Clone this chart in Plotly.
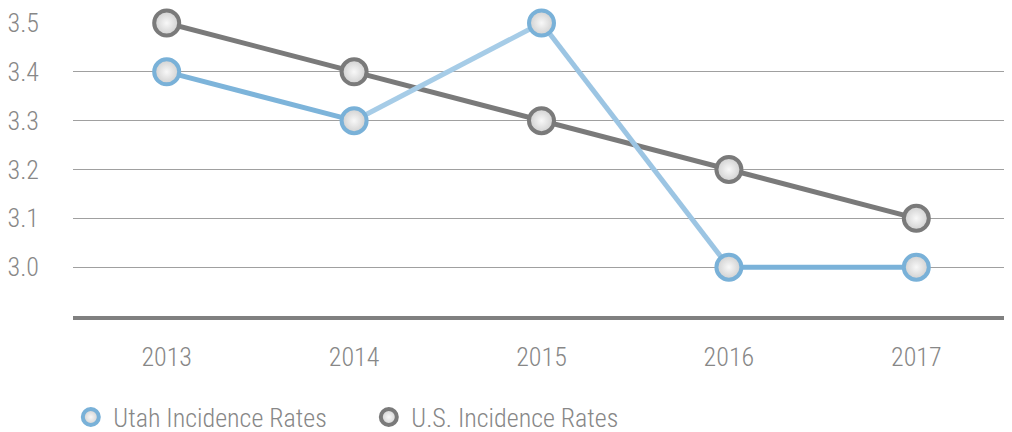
import plotly.graph_objects as go

years = ["2013", "2014", "2015", "2016", "2017"]
utah = [3.4, 3.3, 3.5, 3.0, 3.0]
us = [3.5, 3.4, 3.3, 3.2, 3.1]
y_ticks = [3.0, 3.1, 3.2, 3.3, 3.4, 3.5]

BLUE = "#79b1d8"
SEG_COLORS = ["#7db4da", "#a6cce7", "#9cc5e3", "#7ab2d9"]
GRAY = "#7a7a7a"
FONT = "Roboto Condensed, Liberation Sans Narrow, DejaVu Sans Condensed, Roboto"
TXT = "#878787"
FS = 26

fig = go.Figure()

marker_common = dict(size=25, color="#cfcfcf",
                     gradient=dict(type="radial", color="#f8f8f8"))

fig.add_trace(go.Scatter(
    x=years, y=us, mode="lines", showlegend=False,
    line=dict(color=GRAY, width=5), hoverinfo="skip", cliponaxis=False))
fig.add_trace(go.Scatter(
    x=years, y=us, mode="markers", name="U.S. Incidence Rates",
    marker=dict(**marker_common, line=dict(color=GRAY, width=4)),
    legendrank=2, cliponaxis=False))

for i in range(len(years) - 1):
    fig.add_trace(go.Scatter(
        x=years[i:i + 2], y=utah[i:i + 2], mode="lines", showlegend=False,
        line=dict(color=SEG_COLORS[i], width=5), hoverinfo="skip",
        cliponaxis=False))

fig.add_trace(go.Scatter(
    x=years, y=utah, mode="markers", name="Utah Incidence Rates",
    marker=dict(**marker_common, line=dict(color=BLUE, width=4)),
    legendrank=1, cliponaxis=False))

# page body has an 8px default margin; size the figure to fit the window
fig.update_layout(
    width=1004, height=424,
    margin=dict(l=65, r=2, t=15, b=116, autoexpand=False),
    paper_bgcolor="white", plot_bgcolor="white",
    font=dict(family=FONT, size=FS, color=TXT, weight=300),
    legend=dict(orientation="h", x=-0.005, xanchor="left", y=-0.265, yanchor="top",
                font=dict(family=FONT, size=FS, color=TXT, weight=300),
                itemwidth=35, tracegroupgap=0,
                entrywidthmode="pixels", entrywidth=248),
    showlegend=True,
)
fig.update_xaxes(type="category", range=[-0.5, 4.5], showgrid=False,
                 showline=True, linecolor="#808080", linewidth=4,
                 zeroline=False, ticks="", automargin=False,
                 ticklabelstandoff=15,
                 tickfont=dict(family=FONT, size=FS, color=TXT, weight=300))
fig.update_yaxes(range=[2.9, 3.5], tickvals=y_ticks,
                 ticktext=[f"{v:.1f}" for v in y_ticks],
                 showgrid=True, gridcolor="#a0a0a0", gridwidth=1,
                 zeroline=False, showline=False, ticks="", automargin=False,
                 ticklabelstandoff=33,
                 tickfont=dict(family=FONT, size=FS, color=TXT, weight=300))

fig.write_html("out.html")
